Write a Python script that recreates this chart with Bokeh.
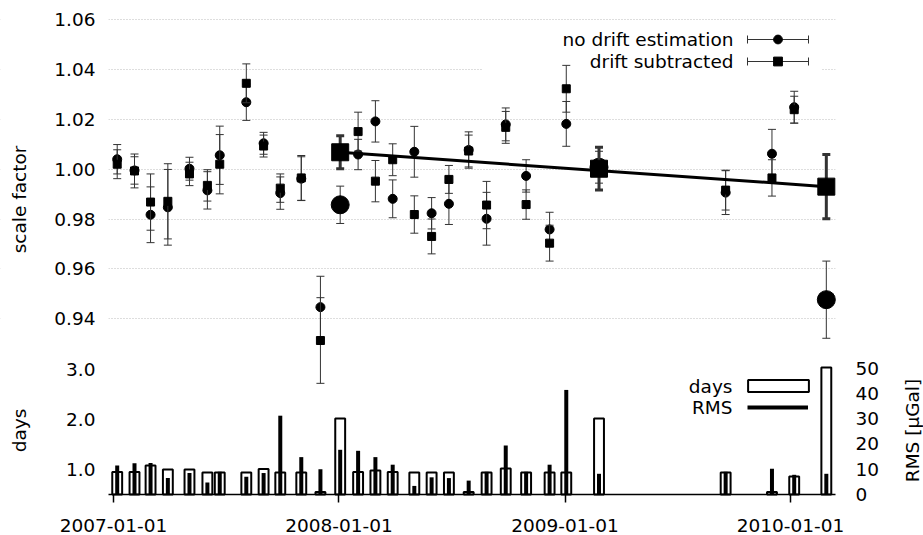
import numpy as np
import pandas as pd
from math import pi
from bokeh.plotting import figure
from bokeh.models import (Range1d, FixedTicker, Grid, Label, Legend, LegendItem, BoxAnnotation,
                          Arrow, TeeHead)
from bokeh.embed import file_html
from bokeh.resources import INLINE

# ---------------- data ----------------
point_dates = ["2007-01-07", "2007-02-04", "2007-03-02", "2007-03-30", "2007-05-04", "2007-06-02",
               "2007-06-22", "2007-08-04", "2007-09-01", "2007-09-28", "2007-11-01", "2007-12-02",
               "2008-02-01", "2008-02-29", "2008-03-28", "2008-05-02", "2008-05-30", "2008-06-27",
               "2008-07-29", "2008-08-27", "2008-09-27", "2008-10-30", "2008-12-07", "2009-01-03",
               "2009-09-18", "2009-12-02", "2010-01-07"]
nodrift_vals = [1.0040, 0.9995, 0.9817, 0.9847, 1.0002, 0.9915, 1.0056, 1.0269, 1.0104, 0.9904,
                0.9962, 0.9446, 1.0059, 1.0192, 0.9881, 1.0070, 0.9823, 0.9861, 1.0077, 0.9801,
                1.0180, 0.9973, 0.9758, 1.0182, 0.9906, 1.0062, 1.0249]
nodrift_errs = [0.0059, 0.0055, 0.0112, 0.0152, 0.0046, 0.0075, 0.0117, 0.0073, 0.0044, 0.0065,
                0.0088, 0.0124, 0.0061, 0.0083, 0.0076, 0.0102, 0.0063, 0.0083, 0.0073, 0.0106,
                0.0066, 0.0065, 0.0069, 0.0090, 0.0088, 0.0098, 0.0064]
drift_vals = [1.0020, 0.9993, 0.9868, 0.9871, 0.9981, 0.9935, 1.0020, 1.0345, 1.0093, 0.9924,
              0.9965, 0.9312, 1.0151, 0.9952, 1.0038, 0.9818, 0.9730, 0.9959, 1.0073, 0.9856,
              1.0168, 0.9858, 0.9703, 1.0323, 0.9916, 0.9965, 1.0239]
drift_errs = [0.0058, 0.0068, 0.0113, 0.0151, 0.0047, 0.0063, 0.0119, 0.0078, 0.0044, 0.0057,
              0.0090, 0.0172, 0.0078, 0.0083, 0.0064, 0.0075, 0.0070, 0.0056, 0.0064, 0.0095,
              0.0064, 0.0059, 0.0072, 0.0094, 0.0080, 0.0073, 0.0054]

big_dates = ["2008-01-03", "2009-02-25", "2010-02-28"]
big_nodrift_vals = [0.9857, 1.0008, 0.9476]
big_nodrift_errs = [0.0075, 0.0064, 0.0155]
big_drift_vals = [1.0068, 1.0002, 0.9930]
big_drift_errs = [0.0066, 0.0086, 0.0129]

fit_dates = ["2008-01-03", "2010-02-28"]
fit_vals = [1.0068, 0.9930]

session_dates = ["2007-01-07", "2007-02-04", "2007-03-02", "2007-03-30", "2007-05-04", "2007-06-02",
                 "2007-06-22", "2007-08-04", "2007-09-01", "2007-09-28", "2007-11-01", "2007-12-02",
                 "2008-01-03", "2008-02-01", "2008-02-29", "2008-03-28", "2008-05-02", "2008-05-30",
                 "2008-06-27", "2008-07-29", "2008-08-27", "2008-09-27", "2008-10-30", "2008-12-07",
                 "2009-01-03", "2009-02-25", "2009-09-18", "2009-12-02", "2010-01-07", "2010-02-28"]
days = [0.95, 0.95, 1.08, 1.00, 1.00, 0.94, 0.94, 0.94, 1.01, 0.94, 0.94, 0.55,
        2.02, 0.95, 0.98, 0.95, 0.94, 0.94, 0.94, 0.55, 0.94, 1.02, 0.94, 0.94,
        0.94, 2.02, 0.94, 0.55, 0.86, 3.04]
rms = [11.5, 12.4, 12.5, 6.5, 8.5, 4.8, 9.0, 7.0, 8.5, 31.2, 14.8, 10.0,
       17.7, 17.3, 14.8, 11.8, 3.4, 6.8, 6.5, 5.5, 9.0, 19.4, 9.0, 11.8,
       41.4, 8.2, 9.0, 10.2, 7.8, 8.2]

tick_dates = ["2007-01-01", "2008-01-01", "2009-01-01", "2010-01-01"]
sf_ticks = [0.94, 0.96, 0.98, 1.00, 1.02, 1.04, 1.06]
day_ticks = [1.0, 2.0, 3.0]
rms_ticks = [0, 10, 20, 30, 40, 50]


def to_ms(s):
    return pd.Timestamp(s).value / 1e6


FONT = "DejaVu Sans"
FS = "18.5px"
FB = 535         # frame bottom in page pixels (frame covers the canvas below the top border)


def sx(px):
    return px


def sy(py):
    return FB - py


pd_dates = pd.to_datetime(point_dates)
bg_dates = pd.to_datetime(big_dates)
ss_dates = pd.to_datetime(session_dates)

DAYS_FLOOR = 0.5
p = figure(width=923, height=535, x_axis_type="datetime", x_axis_location="above",
           y_axis_location=None,
           x_range=Range1d(to_ms("2006-07-02 01:30"), to_ms("2010-08-04 07:40")),
           y_range=Range1d(0.85289, 1.06454),
           output_backend="svg", toolbar_location=None,
           min_border_left=0, min_border_right=0, min_border_top=8, min_border_bottom=0)
p.outline_line_color = None
p.background_fill_color = "white"
p.border_fill_color = "white"
p.grid.visible = False
p.extra_y_ranges = {"days": Range1d(-0.32, 10.22), "rms": Range1d(-16.23, 192.4)}

# grid (dotted), limited to the plot area by white underlay covers
p.add_layout(Grid(dimension=1, ticker=FixedTicker(ticks=sf_ticks), grid_line_color="#bcbcbc",
                  grid_line_dash="1 2", grid_line_width=1))
for l, r in ((0, 108), (835, 923)):
    p.add_layout(BoxAnnotation(left=l, right=r, left_units="screen", right_units="screen",
                               fill_color="white", fill_alpha=1.0, line_color=None,
                               level="underlay"))
# opaque key background (under the data)
p.add_layout(BoxAnnotation(left=to_ms("2008-08-20"), right=to_ms("2010-02-21"), top=1.0577,
                           bottom=1.0376, fill_color="white", fill_alpha=1.0, line_color=None,
                           level="underlay"))

# x axis: baseline with downward ticks, drawn at the floor of the lower panel
xa = p.xaxis[0]
xa.fixed_location = 0.86936
xa.bounds = (to_ms("2006-12-23 21:50"), to_ms("2010-03-14 20:00"))
xa.ticker = FixedTicker(ticks=[to_ms(d) for d in tick_dates])
xa.axis_line_color = "black"
xa.axis_line_width = 1.5
xa.major_tick_line_color = "black"
xa.major_tick_line_width = 1.5
xa.major_tick_out = 0
xa.major_tick_in = 8
xa.minor_tick_line_color = None
xa.major_label_standoff = 0
xa.major_label_text_font_size = "1px"
xa.major_label_text_alpha = 0

# ---------- lower panel: days boxes and RMS bars ----------
box_w = 16 * 86400000
days_r = p.vbar(x=ss_dates, width=box_w, bottom=DAYS_FLOOR, top=days, y_range_name="days",
                fill_alpha=0, line_color="black", line_width=2)
rms_r = p.segment(x0=ss_dates, y0=0, x1=ss_dates, y1=rms, y_range_name="rms",
                  line_color="black", line_width=4)

# ---------- upper panel ----------
ERR = "#333333"


def errbars(dates, vals, errs, width, cap):
    v = np.array(vals)
    e = np.array(errs)
    lo, hi = v - e, v + e
    stem = p.segment(x0=dates, y0=lo, x1=dates, y1=hi, line_color=ERR, line_width=width)
    p.scatter(x=np.concatenate([dates, dates]), y=np.concatenate([lo, hi]), marker="dash",
              size=cap, line_color=ERR, line_width=width)
    return stem


stem_c = errbars(pd_dates, nodrift_vals, nodrift_errs, 1, 8)
mark_c = p.scatter(x=pd_dates, y=nodrift_vals, marker="circle", size=9, fill_color="black",
                   line_color="black")
stem_s = errbars(pd_dates, drift_vals, drift_errs, 1, 8)
mark_s = p.scatter(x=pd_dates, y=drift_vals, marker="square", size=8, fill_color="black",
                   line_color="black")

errbars(bg_dates, big_nodrift_vals, big_nodrift_errs, 1, 8)
p.scatter(x=bg_dates, y=big_nodrift_vals, marker="circle", size=18, fill_color="black",
          line_color="black")
p.line(x=pd.to_datetime(fit_dates), y=fit_vals, line_color="black", line_width=3)
errbars(bg_dates, big_drift_vals, big_drift_errs, 3, 8)
p.scatter(x=bg_dates, y=big_drift_vals, marker="square", size=17, fill_color="black",
          line_color="black")

# ---------- legends (glyph samples) ----------
common = dict(padding=0, margin=0, border_line_color=None, background_fill_alpha=0,
              label_text_font_size="1px", label_standoff=0, spacing=0)
# horizontal error-bar samples with end caps
for yy in (39, 61):
    p.add_layout(Arrow(x_start=sx(747), y_start=sy(yy), x_end=sx(808), y_end=sy(yy),
                       start_units="screen", end_units="screen",
                       start=TeeHead(size=8, line_color=ERR, line_width=1),
                       end=TeeHead(size=8, line_color=ERR, line_width=1),
                       line_color=ERR, line_width=1))
lg1 = Legend(items=[LegendItem(label=" ", renderers=[stem_c, mark_c]),
                    LegendItem(label=" ", renderers=[stem_s, mark_s])],
             location=(sx(747), sy(72)), glyph_width=61, glyph_height=22, label_height=22,
             **common)
lg2 = Legend(items=[LegendItem(label=" ", renderers=[days_r])],
             location=(sx(739.5), sy(392.5)), glyph_width=76, glyph_height=15, label_height=15,
             **common)
lg3 = Legend(items=[LegendItem(label=" ", renderers=[rms_r])],
             location=(sx(747), sy(412)), glyph_width=61, glyph_height=10, label_height=10,
             **common)
for lg in (lg1, lg2, lg3):
    p.add_layout(lg)


# ---------- texts ----------
def text(px, py, t, align="right", angle=0.0):
    p.add_layout(Label(x=sx(px), y=sy(py), x_units="screen", y_units="screen", text=t,
                       text_align=align, text_baseline="middle", angle=angle,
                       text_font=FONT, text_font_size=FS, text_color="black"))


text(733, 39, "no drift estimation")
text(733, 61, "drift subtracted")
text(732, 386, "days")
text(732, 407, "RMS")
text(19, 199, "scale factor", align="center", angle=pi / 2)
text(19, 430, "days", align="center", angle=pi / 2)
text(912, 430, "RMS [µGal]", align="center", angle=pi / 2)


def tick_label(px, v, label, align, range_name="default"):
    p.add_layout(Label(x=sx(px), x_units="screen", y=v, y_range_name=range_name, text=label,
                       text_align=align, text_baseline="middle", text_font=FONT,
                       text_font_size=FS, text_color="black"))


for v in sf_ticks:
    tick_label(95, v, f"{v:.2f}", "right")
for v in day_ticks:
    tick_label(95, v, f"{v:.1f}", "right", "days")
for v in rms_ticks:
    tick_label(855, v, f"{v}", "left", "rms")
for d in tick_dates:
    p.add_layout(Label(x=to_ms(d), y=sy(525), y_units="screen", text=d, text_align="center",
                       text_baseline="middle", text_font=FONT, text_font_size=FS,
                       text_color="black"))

open("out.html", "w").write(file_html(p, INLINE))
